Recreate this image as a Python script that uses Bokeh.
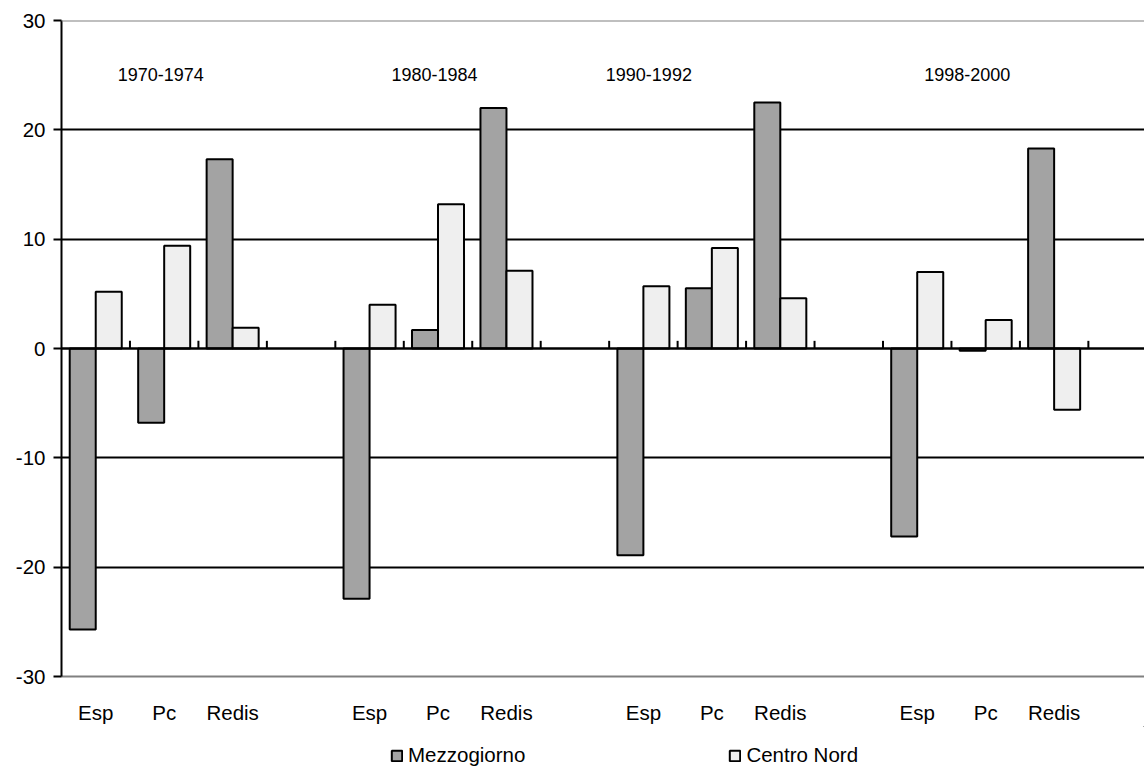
from bokeh.plotting import figure
from bokeh.layouts import column
from bokeh.models import Range1d, FixedTicker, Span, Legend, LegendItem, Label
from bokeh.embed import file_html
from bokeh.resources import INLINE

# ---- data ----
categories = ["Esp", "Pc", "Redis"]
periods = ["1970-1974", "1980-1984", "1990-1992", "1998-2000"]
mezzogiorno = [-25.7, -6.8, 17.3, -22.9, 1.7, 22.0, -18.9, 5.5, 22.5, -17.2, -0.2, 18.3]
centro_nord = [5.2, 9.4, 1.9, 4.0, 13.2, 7.1, 5.7, 9.2, 4.6, 7.0, 2.6, -5.6]
y_ticks = [-30, -20, -10, 0, 10, 20, 30]
series_names = ["Mezzogiorno", "Centro Nord"]

# ---- layout constants ----
FONT = "Liberation Sans"
MEZZ_COLOR = "#a3a3a3"
CN_COLOR = "#efefef"
BAR_W = 0.38
SLOTS_PER_GROUP = len(categories) + 1
period_label_x = [1.45, 5.45, 8.58, 13.23]

centers = []
labels = []
for g in range(len(periods)):
    for i, c in enumerate(categories):
        centers.append(g * SLOTS_PER_GROUP + i + 0.5)
        labels.append(c)
n_slots = len(periods) * SLOTS_PER_GROUP
boundaries = list(range(1, n_slots))

p = figure(frame_width=1083, frame_height=656, x_range=Range1d(0, 15.82), y_range=Range1d(-30, 30),
           output_backend="svg", toolbar_location=None,
           min_border_left=61, min_border_right=0, min_border_top=20, min_border_bottom=50)
p.outline_line_color = None
p.background_fill_color = "white"

# grid
p.xgrid.visible = False
p.ygrid.ticker = FixedTicker(ticks=[-20, -10, 10, 20])
p.ygrid.grid_line_color = "black"
p.ygrid.grid_line_width = 2

# y axis
p.yaxis.ticker = FixedTicker(ticks=y_ticks)
p.yaxis.major_label_overrides = {t: str(t) for t in y_ticks}
p.yaxis.axis_line_color = "black"
p.yaxis.axis_line_width = 2
p.yaxis.major_tick_line_color = "black"
p.yaxis.major_tick_line_width = 2
p.yaxis.major_tick_out = 8
p.yaxis.major_tick_in = 0
p.yaxis.minor_tick_line_color = None
p.yaxis.major_label_text_font = FONT
p.yaxis.major_label_text_font_size = "20.5px"
p.yaxis.major_label_text_color = "black"
p.yaxis.major_label_standoff = 8

# x axis (bottom, category labels)
p.xaxis.ticker = FixedTicker(ticks=centers)
p.xaxis.major_label_overrides = {c: l for c, l in zip(centers, labels)}
p.xaxis.axis_line_color = "#808080"
p.xaxis.axis_line_width = 2
p.xaxis.major_tick_line_color = None
p.xaxis.minor_tick_line_color = None
p.xaxis.major_label_text_font = FONT
p.xaxis.major_label_text_font_size = "20.5px"
p.xaxis.major_label_text_color = "black"
p.xaxis.major_label_standoff = 18

# top frame line
p.add_layout(Span(location=30, dimension="width", line_color="#808080", line_width=2))

# bars
r_m = p.vbar(x=[c - BAR_W / 2 for c in centers], top=mezzogiorno, bottom=0, width=BAR_W,
             fill_color=MEZZ_COLOR, line_color="black", line_width=2)
r_c = p.vbar(x=[c + BAR_W / 2 for c in centers], top=centro_nord, bottom=0, width=BAR_W,
             fill_color=CN_COLOR, line_color="black", line_width=2)

# zero axis with tick marks
p.add_layout(Span(location=0, dimension="width", line_color="black", line_width=2.5))
p.segment(x0=boundaries, y0=[0] * len(boundaries), x1=boundaries, y1=[0.7] * len(boundaries),
          line_color="black", line_width=2)

# period labels
for px, txt in zip(period_label_x, periods):
    p.add_layout(Label(x=px, y=25.1, text=txt, text_align="center", text_baseline="middle",
                       text_font=FONT, text_font_size="18px", text_color="black"))

# legend strip below the chart (its frame is aligned with the chart's frame)
lg = figure(width=1144, height=41, output_backend="svg", toolbar_location=None,
            x_axis_type=None, y_axis_type=None, min_border=0,
            x_range=Range1d(0, 1), y_range=Range1d(0, 1))
lg.outline_line_color = None
lg.xgrid.visible = False
lg.ygrid.visible = False
# legend-key renderers: a single sample placed outside the visible range
d_m = lg.vbar(x=[5], top=[5], bottom=[4], width=0.1, fill_color=MEZZ_COLOR, line_color="black", line_width=2)
d_c = lg.vbar(x=[5], top=[5], bottom=[4], width=0.1, fill_color=CN_COLOR, line_color="black", line_width=2)
legend = Legend(items=[LegendItem(label=series_names[0], renderers=[d_m]),
                       LegendItem(label=series_names[1], renderers=[d_c])],
                orientation="horizontal", location=(329, 0), spacing=203,
                label_text_font=FONT, label_text_font_size="20.5px", label_text_color="black",
                glyph_width=13, glyph_height=13, label_standoff=5, label_height=18,
                border_line_color=None, background_fill_alpha=0, padding=0, margin=0)
lg.add_layout(legend, "center")

layout = column(p, lg, spacing=0)
open("out.html", "w").write(file_html(layout, INLINE))
